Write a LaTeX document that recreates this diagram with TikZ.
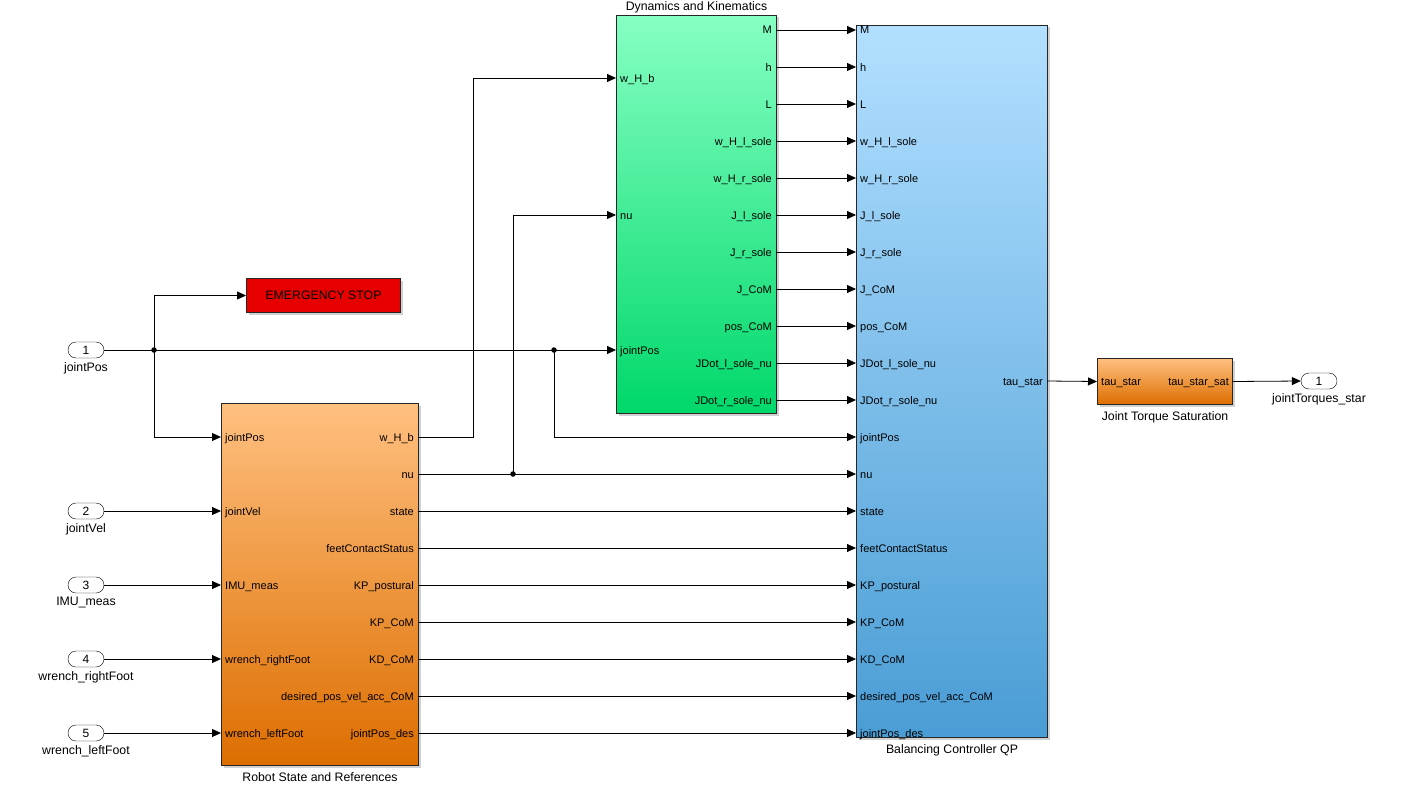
\documentclass[tikz,border=0pt]{standalone}
\usepackage{fontspec}
\setmainfont{Liberation Sans}
\usepackage{xcolor}
\usetikzlibrary{positioning, arrows.meta, calc, shadows}

\definecolor{dkTop}{RGB}{134,255,195}
\definecolor{dkBot}{RGB}{0,216,106}
\definecolor{qpTop}{RGB}{178,223,255}
\definecolor{qpBot}{RGB}{74,157,213}
\definecolor{rsTop}{RGB}{255,192,128}
\definecolor{rsBot}{RGB}{221,110,0}
\definecolor{esRed}{RGB}{230,0,0}

\begin{document}
\begin{tikzpicture}[
  x=1pt, y=-1pt,
  font=\fontsize{11}{13}\selectfont,
  blk/.style={draw=black!85, line width=1pt, anchor=north west, inner sep=0pt,
    drop shadow={shadow xshift=2pt, shadow yshift=-2pt, opacity=0.3, fill=black!60}},
  inport/.style={draw, rounded corners=8pt, minimum width=36pt, minimum height=16pt, inner sep=0pt,
    font=\fontsize{12}{14}\selectfont},
  inlbl/.style={anchor=base west, inner sep=0pt, xshift=4pt, yshift=-4pt},
  outlbl/.style={anchor=base east, inner sep=0pt, xshift=-4pt, yshift=-4pt},
  title/.style={inner sep=1pt, font=\fontsize{12.3}{14}\selectfont},
  sig/.style={-{Triangle[length=9pt, width=8pt]}, line width=0.8pt},
  wire/.style={line width=0.8pt},
  dot/.style={circle, fill, inner sep=0pt, minimum size=5.5pt}
]
\useasboundingbox (0,0) rectangle (1418,792);

% blocks
\node[blk, top color=dkTop, bottom color=dkBot, minimum width=160pt, minimum height=398pt] (dk) at (616,15) {};
\node[blk, top color=qpTop, bottom color=qpBot, minimum width=191pt, minimum height=712pt] (qp) at (856,25) {};
\node[blk, top color=rsTop, bottom color=rsBot, minimum width=197pt, minimum height=362pt] (rs) at (221,403) {};
\node[blk, top color=rsTop, bottom color=rsBot, minimum width=135pt, minimum height=46pt] (jts) at (1097,358) {};
\node[blk, fill=esRed, minimum width=154pt, minimum height=34pt] (es) at (246,278) {};
\node[title] (es-txt) at (es.center) {EMERGENCY STOP};

\node[title, above=1pt of dk] (dk-title) {Dynamics and Kinematics};
\node[title, below=5pt of qp] (qp-title) {Balancing Controller QP};
\node[title, below=5pt of rs] (rs-title) {Robot State and References};
\node[title, below=5pt of jts] (jts-title) {Joint Torque Saturation};

% ports of Dynamics and Kinematics
\foreach \y/\txt [count=\i] in {78/w\_H\_b, 215/nu, 350/jointPos} {
  \coordinate (dk-i\i) at (616,\y);
  \node[inlbl] (dk-il\i) at (dk-i\i) {\txt};
}
\foreach \y/\txt [count=\i] in {30/M, 67/h, 104/L, 141/w\_H\_l\_sole, 178/w\_H\_r\_sole,
    215/J\_l\_sole, 252/J\_r\_sole, 289/J\_CoM, 326/pos\_CoM, 363/JDot\_l\_sole\_nu, 400/JDot\_r\_sole\_nu} {
  \coordinate (dk-o\i) at (776,\y);
  \node[outlbl] (dk-ol\i) at (dk-o\i) {\txt};
}

% ports of Balancing Controller QP
\foreach \y/\txt [count=\i] in {30/M, 67/h, 104/L, 141/w\_H\_l\_sole, 178/w\_H\_r\_sole,
    215/J\_l\_sole, 252/J\_r\_sole, 289/J\_CoM, 326/pos\_CoM, 363/JDot\_l\_sole\_nu, 400/JDot\_r\_sole\_nu,
    437/jointPos, 474/nu, 511/state, 548/feetContactStatus, 585/KP\_postural, 622/KP\_CoM,
    659/KD\_CoM, 696/desired\_pos\_vel\_acc\_CoM, 733/jointPos\_des} {
  \coordinate (qp-i\i) at (856,\y);
  \node[inlbl] (qp-il\i) at (qp-i\i) {\txt};
}
\coordinate (qp-o1) at (1047,381);
\node[outlbl] (qp-ol1) at (qp-o1) {tau\_star};

% ports of Robot State and References
\foreach \y/\txt [count=\i] in {437/jointPos, 511/jointVel, 585/IMU\_meas, 659/wrench\_rightFoot, 733/wrench\_leftFoot} {
  \coordinate (rs-i\i) at (221,\y);
  \node[inlbl] (rs-il\i) at (rs-i\i) {\txt};
}
\foreach \y/\txt [count=\i] in {437/w\_H\_b, 474/nu, 511/state, 548/feetContactStatus, 585/KP\_postural,
    622/KP\_CoM, 659/KD\_CoM, 696/desired\_pos\_vel\_acc\_CoM, 733/jointPos\_des} {
  \coordinate (rs-o\i) at (418,\y);
  \node[outlbl] (rs-ol\i) at (rs-o\i) {\txt};
}

% ports of Joint Torque Saturation
\node[inlbl] (jts-il) at (jts.west) {tau\_star};
\node[outlbl] (jts-ol) at (jts.east) {tau\_star\_sat};

% inports and outport
\foreach \y/\num/\txt in {350/1/jointPos, 511/2/jointVel, 585/3/IMU\_meas, 659/4/wrench\_rightFoot, 733/5/wrench\_leftFoot} {
  \node[inport] (in\num) at (86,\y) {\num};
  \node[title, below=3pt of in\num] (in\num-name) {\txt};
}
\node[inport] (out1) at (1319,381) {1};
\node[title, below=3pt of out1] (out1-name) {jointTorques\_star};

% signals
\coordinate (br1) at (154,350);
\coordinate (br2) at (554,350);
\coordinate (br3) at (513,474);
\coordinate (wb-up) at (473,78);
\draw[wire] (in1.east) -- (br1);
\draw[sig] (br1) |- (es.west);
\draw[sig] (br1) |- (rs-i1);
\draw[sig] (br1) -- (dk-i3);
\draw[sig] (br2) |- (qp-i12);
\draw[sig] (rs-o1) -| (wb-up) -- (dk-i1);
\draw[sig] (rs-o2) -- (qp-i13);
\draw[sig] (br3) |- (dk-i2);
\foreach \i in {2,...,5} {
  \draw[sig] (in\i.east) -- (rs-i\i);
}
\foreach \i in {1,...,11} {
  \draw[sig] (dk-o\i) -- (qp-i\i);
}
\foreach \i [evaluate=\i as \j using int(\i+11)] in {3,...,9} {
  \draw[sig] (rs-o\i) -- (qp-i\j);
}
\draw[sig] (qp-o1) -- (jts.west);
\draw[sig] (jts.east) -- (out1.west);
\node[dot] (dot1) at (br1) {};
\node[dot] (dot2) at (br2) {};
\node[dot] (dot3) at (br3) {};
\end{tikzpicture}
\end{document}
